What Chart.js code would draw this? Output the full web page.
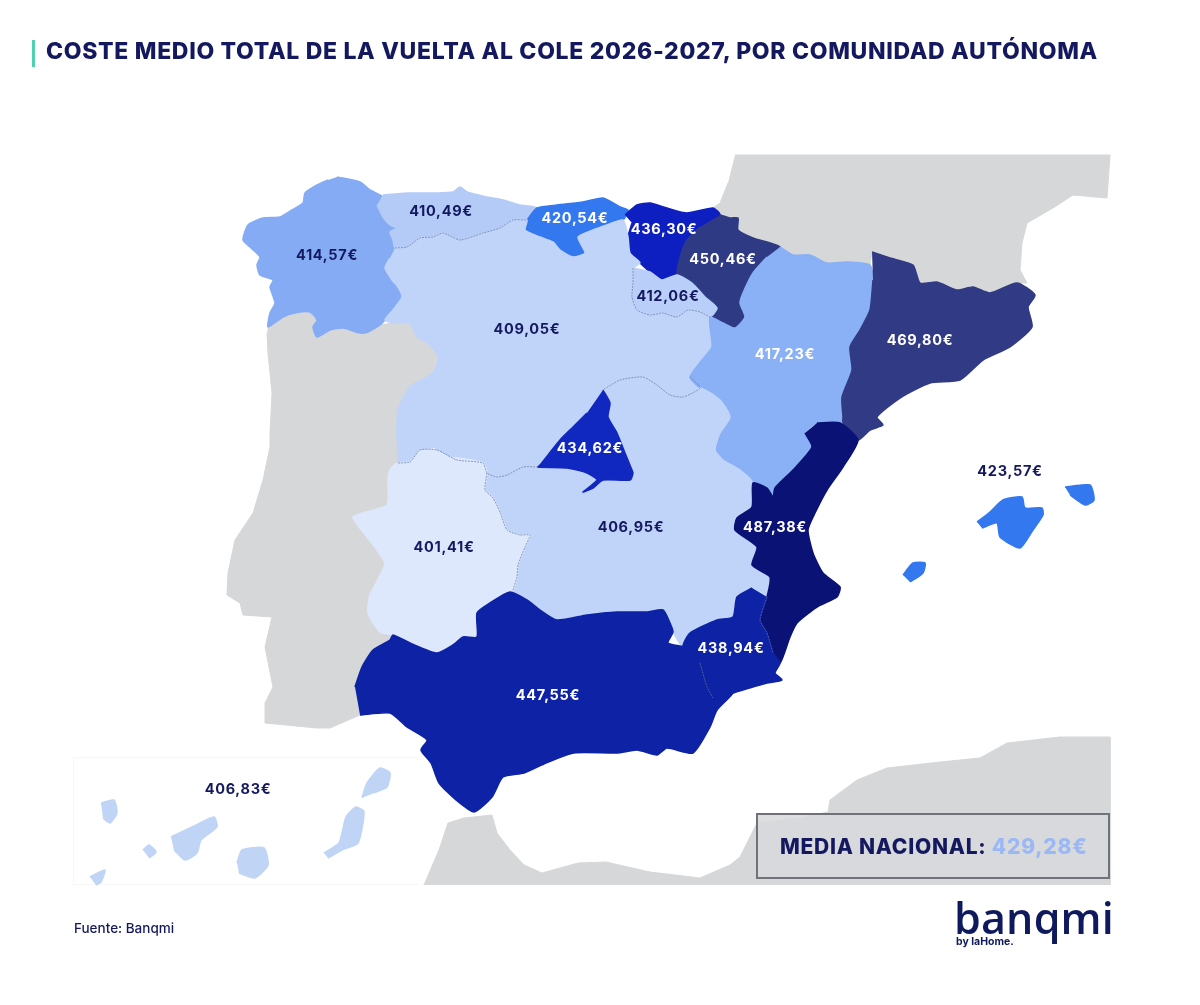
<!DOCTYPE html>
<html lang="es">
<head>
<meta charset="utf-8">
<title>Coste medio total de la vuelta al cole 2026-2027</title>
<script src="https://cdn.jsdelivr.net/npm/chart.js@4/dist/chart.umd.min.js"></script>
<style>
  html, body { margin: 0; padding: 0; background: #fff; }
  #page { position: relative; width: 1200px; height: 1005px; overflow: hidden; font-family: Inter, "Noto Sans", sans-serif; color: #14195f; }
  #page > * { position: absolute; }
  #map { left: 0; top: 0; }
  #accent { left: 32px; top: 40px; width: 3px; height: 27px; background: #4fd1b0; }
  #title { left: 46px; top: 36px; font-size: 23px; font-weight: 800; line-height: 30px; white-space: nowrap; letter-spacing: 0.68px; }
  #inset { left: 73px; top: 757px; width: 346px; height: 128px; border: 1px solid #f6f6f6; border-right: 0; box-sizing: border-box; }
  #media { left: 756px; top: 813px; width: 354px; height: 66px; box-sizing: border-box; border: 2px solid #6f7278; background: rgba(216,217,220,0.85); line-height: 64px; padding-left: 22px; font-size: 21px; font-weight: 800; white-space: nowrap; letter-spacing: 0.75px; }
  #media span { color: #9bb8f5; }
  #source { left: 74px; top: 920px; font-size: 13.5px; line-height: 16px; font-weight: 500; }
  #logo { left: 954px; top: 888px; font-size: 43px; line-height: 60px; font-weight: 600; letter-spacing: 0.2px; color: #0f1a5e; font-family: "Open Sans", sans-serif; }
  #by { left: 956px; top: 935px; font-size: 10.5px; line-height: 13px; font-weight: 700; color: #0f1a5e; }
</style>
</head>
<body>
<div id="page">
  <div id="inset"></div>
  <canvas id="map" width="1200" height="1005"></canvas>
  <div id="accent"></div>
  <div id="title">COSTE MEDIO TOTAL DE LA VUELTA AL COLE 2026-2027, POR COMUNIDAD AUTÓNOMA</div>
  <div id="media">MEDIA NACIONAL: <span id="mediaValue"></span></div>
  <div id="source">Fuente: Banqmi</div>
  <div id="logo">banqmi</div>
  <div id="by">by laHome.</div>
</div>
<script>
// Values
const regionNames = ["Galicia", "Asturias", "Cantabria", "País Vasco", "Navarra", "La Rioja", "Castilla y León", "Aragón", "Cataluña", "Castilla-La Mancha", "Madrid", "Extremadura", "C. Valenciana", "Murcia", "Andalucía", "Baleares", "Canarias"];
const regionValues = [414.57, 410.49, 420.54, 436.30, 450.46, 412.06, 409.05, 417.23, 469.80, 406.95, 434.62, 401.41, 487.38, 438.94, 447.55, 423.57, 406.83];
const nationalMean = 429.28;

// Outlines, in the units of the map scales
const galicia = [[[337,177],[360,182],[370,190],[383,197],[377,205],[383,217],[390,225],[397,228],[390,232],[393,240],[395,248],[390,258],[385,268],[392,280],[398,287],[402,297],[393,310],[385,320],[380,325],[368,332],[360,333],[343,328],[330,330],[317,337],[313,327],[317,320],[310,312],[295,313],[283,317],[268,327],[270,313],[275,303],[270,287],[273,280],[260,275],[257,265],[260,257],[250,247],[243,240],[248,225],[263,218],[280,217],[292,210],[303,203],[305,193],[317,185],[328,180]]];
const asturias = [[[383,195],[407,193],[437,193],[453,192],[460,187],[467,192],[487,197],[503,200],[520,205],[537,208],[527,220],[513,220],[500,228],[483,233],[460,240],[443,233],[433,237],[420,238],[407,247],[395,248],[393,240],[390,232],[397,228],[390,225],[383,217],[377,205]]];
const cantabria = [[[527,220],[537,208],[557,205],[583,202],[603,198],[620,207],[628,210],[623,220],[607,225],[593,230],[578,237],[585,253],[573,257],[560,250],[553,242],[540,237],[525,230]]];
const paisVasco = [[[625,215],[637,205],[650,203],[667,208],[687,213],[713,208],[720,215],[700,227],[685,243],[677,275],[670,278],[662,280],[650,272],[640,263],[630,253],[628,237],[632,223]]];
const navarra = [[[720,215],[730,218],[738,218],[738,230],[753,238],[780,247],[767,257],[753,273],[743,293],[740,303],[745,317],[735,328],[723,323],[710,317],[717,308],[705,297],[692,283],[677,275],[685,243],[700,227]]];
const laRioja = [[[633,268],[650,272],[662,280],[677,275],[692,283],[705,297],[717,308],[710,317],[700,312],[688,310],[677,317],[663,313],[650,315],[637,310],[632,297],[633,283]]];
const castillaLeon = [[[395,248],[407,247],[420,238],[433,237],[443,233],[460,240],[483,233],[500,228],[513,220],[527,220],[525,230],[540,237],[553,242],[560,250],[573,257],[585,253],[578,237],[593,230],[607,225],[623,220],[628,237],[630,253],[640,263],[633,268],[633,283],[632,297],[637,310],[650,315],[663,313],[677,317],[688,310],[700,312],[710,317],[710,327],[712,347],[702,360],[690,377],[700,388],[683,397],[670,395],[657,385],[643,377],[620,380],[603,390],[587,413],[573,427],[560,440],[540,465],[523,467],[507,475],[497,477],[487,473],[483,463],[457,460],[437,450],[420,450],[410,462],[397,463],[398,460],[397,433],[398,410],[410,387],[433,373],[438,357],[428,343],[417,337],[410,323],[393,323],[385,320],[393,310],[402,297],[398,287],[392,280],[385,268],[390,258]]];
const aragon = [[[780,247],[793,255],[810,255],[827,263],[847,262],[870,265],[873,280],[870,310],[860,330],[850,347],[852,370],[842,397],[843,417],[840,423],[817,423],[805,433],[812,447],[793,470],[775,488],[773,497],[767,488],[753,483],[740,470],[723,460],[715,450],[720,433],[730,417],[720,400],[700,388],[690,377],[702,360],[712,347],[710,327],[710,317],[723,323],[735,328],[745,317],[740,303],[743,293],[753,273],[767,257]]];
const cataluna = [[[872,252],[890,258],[913,265],[920,283],[937,282],[957,290],[973,287],[990,293],[1017,283],[1035,295],[1028,307],[1032,327],[1010,347],[983,360],[960,380],[930,383],[900,398],[877,417],[883,425],[870,430],[858,440],[843,423],[843,417],[842,397],[852,370],[850,347],[860,330],[870,310],[873,280]]];
const castillaMancha = [[[603,392],[620,380],[643,377],[657,385],[670,395],[683,397],[700,388],[720,400],[730,417],[720,433],[715,450],[723,460],[740,470],[753,483],[752,507],[737,518],[735,530],[757,547],[752,565],[770,577],[767,597],[752,588],[737,597],[733,617],[717,620],[690,633],[683,647],[673,632],[670,623],[663,610],[647,612],[617,612],[587,615],[557,620],[540,610],[527,600],[510,592],[513,590],[517,577],[518,565],[525,547],[530,535],[520,535],[507,530],[500,512],[493,498],[485,490],[487,473],[497,477],[507,475],[523,467],[538,467]]];
const madrid = [[[603,390],[610,403],[608,417],[617,433],[625,453],[632,470],[633,473],[630,480],[603,480],[593,488],[583,492],[597,480],[587,473],[567,468],[538,467],[540,465],[560,440],[573,427],[587,413]]];
const extremadura = [[[433,448],[447,457],[458,458],[483,463],[487,473],[485,490],[493,498],[500,512],[507,530],[520,535],[530,535],[525,547],[518,565],[517,577],[513,590],[490,603],[477,613],[477,637],[463,637],[453,645],[437,653],[410,643],[393,635],[380,632],[368,613],[370,595],[385,563],[367,537],[353,517],[387,505],[388,480],[390,470],[397,463],[410,462],[420,450]]];
const valencia = [[[817,423],[840,423],[858,440],[843,467],[827,490],[815,513],[808,530],[813,553],[823,573],[840,587],[837,597],[817,607],[797,623],[790,637],[780,663],[773,653],[767,633],[760,620],[767,597],[770,577],[752,565],[757,547],[735,530],[737,518],[752,507],[753,483],[767,488],[773,497],[775,488],[793,470],[812,447],[805,433]]];
const murcia = [[[767,597],[760,620],[767,633],[773,653],[780,663],[775,673],[782,680],[767,683],[753,687],[733,693],[713,698],[707,687],[700,663],[683,647],[690,633],[717,620],[733,617],[737,597],[752,588]]];
const andalucia = [[[355,687],[362,667],[373,650],[390,640],[393,635],[410,643],[437,653],[453,645],[463,637],[477,637],[477,613],[490,603],[510,592],[527,600],[540,610],[557,620],[587,615],[617,612],[647,612],[663,610],[670,623],[673,632],[668,643],[687,648],[700,663],[707,687],[713,698],[733,693],[717,710],[710,727],[693,753],[667,748],[657,755],[637,750],[617,753],[574,753],[546,763],[524,773],[503,777],[492,797],[474,812],[456,800],[439,783],[431,763],[421,750],[427,740],[407,727],[390,713],[360,715]]];
const baleares = [
  [[977,522],[990,512],[1003,500],[1022,497],[1025,508],[1042,508],[1043,515],[1033,530],[1020,548],[1000,537],[997,523],[982,528]],
  [[1065,487],[1090,485],[1094,500],[1085,505],[1070,495]],
  [[903,575],[913,563],[925,563],[923,573],[910,582]]
];
const canarias = [
  [[90,877],[105,870],[101,882],[96,885]],
  [[101,803],[114,800],[117,813],[110,823],[103,818]],
  [[143,850],[149,845],[156,852],[149,858]],
  [[171,837],[192,827],[214,817],[217,827],[201,840],[197,853],[185,860],[174,850]],
  [[237,863],[242,850],[264,848],[268,865],[255,878],[239,873]],
  [[324,853],[339,843],[346,817],[356,807],[364,812],[358,843],[342,850],[328,858]],
  [[362,798],[367,783],[380,768],[390,773],[387,787],[374,793]]
];
const regionOutlines = [galicia, asturias, cantabria, paisVasco, navarra, laRioja, castillaLeon, aragon, cataluna, castillaMancha, madrid, extremadura, valencia, murcia, andalucia, baleares, canarias];

// Neighbouring land
const portugal = [[268,327],[283,317],[295,313],[310,312],[317,320],[313,327],[317,337],[330,330],[343,328],[360,333],[368,332],[380,325],[393,323],[410,323],[417,337],[428,343],[438,357],[433,373],[410,387],[398,410],[397,433],[398,460],[397,463],[390,470],[388,480],[387,505],[353,517],[367,537],[385,563],[370,595],[368,613],[380,632],[393,635],[390,640],[373,650],[362,667],[355,687],[360,715],[330,728],[317,728],[265,723],[265,703],[273,687],[265,647],[272,617],[243,615],[240,603],[227,595],[228,573],[235,540],[253,513],[263,480],[270,447],[270,433],[272,393],[268,353],[267,333]];
const france = [[735,155],[1110,155],[1107,198],[1073,195],[1053,208],[1027,223],[1022,243],[1020,270],[1027,283],[1017,283],[990,293],[973,287],[957,290],[937,282],[920,283],[913,265],[890,258],[872,252],[870,265],[847,262],[827,263],[810,255],[793,255],[780,247],[753,238],[738,230],[738,218],[720,215],[713,208],[720,203],[728,183]];
const africa = [[424,885],[439,850],[448,823],[464,818],[492,815],[497,833],[510,850],[524,865],[542,873],[578,863],[606,862],[650,872],[700,878],[730,865],[740,857],[757,823],[800,818],[828,812],[830,800],[857,780],[887,768],[940,762],[980,758],[1007,743],[1060,737],[1110,737],[1110,885]];
const neighbours = [portugal, france, africa];

// Inner borders between pale regions
const borderCylMancha = [[690,377],[700,388],[683,397],[670,395],[657,385],[643,377],[620,380],[603,390]];
const borderCylSouth = [[538,467],[523,467],[507,475],[497,477],[487,473],[483,463],[457,460],[437,450],[420,450],[410,462],[397,463]];
const borderExtMancha = [[487,473],[485,490],[493,498],[500,512],[507,530],[520,535],[530,535],[525,547],[518,565],[517,577],[513,590]];
const borderRioja = [[633,268],[633,283],[632,297],[637,310],[650,315],[663,313],[677,317],[688,310],[700,312],[710,317]];
const borderAstCyl = [[395,248],[407,247],[420,238],[433,237],[443,233],[460,240],[483,233],[500,228],[513,220],[527,220]];
const borderMurAnd = [[700,663],[707,687],[713,698]];
const borderMurVal = [[767,597],[760,620],[767,633],[773,653]];
const innerBorders = [borderCylMancha, borderCylSouth, borderExtMancha, borderRioja, borderAstCyl, borderMurAnd, borderMurVal];

// Where each figure is written
const labelX = [327, 441, 575, 664, 723, 668, 527, 785, 920, 631, 590, 444, 775, 731, 548, 1010, 238];
const labelY = [256, 212, 219, 230, 260, 297, 330, 355, 341, 528, 449, 548, 528, 649, 696, 472, 790];

// Styles
const regionColors = ["#86abf5", "#b4cbf8", "#3478f0", "#0e1fc2", "#2f3a85", "#b9cff9", "#c0d4fa", "#8ab0f5", "#313b85", "#c0d4fa", "#1128c0", "#dde8fd", "#0a1275", "#0e22a5", "#0e22a5", "#3478f0", "#c0d4f5"];
const labelColors = ["#14195f", "#14195f", "#fff", "#fff", "#fff", "#14195f", "#14195f", "#fff", "#fff", "#14195f", "#fff", "#14195f", "#fff", "#fff", "#fff", "#14195f", "#14195f"];
const landColor = "#d6d7d9";

function euro(v) {
  return v.toFixed(2).replace(".", ",") + "€";
}

function toPoints(list) {
  return list.map(p => ({ x: p[0], y: p[1] }));
}

const datasets = [];
let depth = 1000;

neighbours.forEach(shape => {
  datasets.push({ data: toPoints(shape), showLine: true, fill: "shape", backgroundColor: landColor, borderColor: landColor, borderWidth: 1, pointRadius: 0, order: depth-- });
});
regionOutlines.forEach((parts, i) => {
  parts.forEach(shape => {
    datasets.push({ label: regionNames[i], data: toPoints(shape), showLine: true, fill: "shape", tension: 0.2, backgroundColor: regionColors[i], borderColor: regionColors[i], borderWidth: 1.5, pointRadius: 0, order: depth-- });
  });
});
innerBorders.forEach(line => {
  datasets.push({ data: toPoints(line), showLine: true, fill: false, tension: 0.2, borderColor: "rgba(105,120,155,0.7)", borderWidth: 1, borderDash: [2, 1], pointRadius: 0, order: depth-- });
});

// Figures on top of the regions
const valueLabels = {
  id: "valueLabels",
  afterDatasetsDraw(chart) {
    const ctx = chart.ctx;
    ctx.save();
    ctx.font = "700 14.5px Inter, sans-serif";
    ctx.letterSpacing = "0.7px";
    ctx.textAlign = "center";
    ctx.textBaseline = "middle";
    regionValues.forEach((v, i) => {
      ctx.fillStyle = labelColors[i];
      ctx.fillText(euro(v), chart.scales.x.getPixelForValue(labelX[i]), chart.scales.y.getPixelForValue(labelY[i]));
    });
    ctx.restore();
  }
};

document.getElementById("mediaValue").textContent = euro(nationalMean);

new Chart(document.getElementById("map").getContext("2d"), {
  type: "scatter",
  data: { datasets },
  plugins: [valueLabels],
  options: {
    responsive: false,
    animation: false,
    layout: { padding: 0 },
    plugins: { legend: { display: false }, tooltip: { enabled: false } },
    scales: {
      x: { type: "linear", min: 0, max: 1200, display: false },
      y: { type: "linear", min: 0, max: 1005, reverse: true, display: false }
    }
  }
});
</script>
</body>
</html>
